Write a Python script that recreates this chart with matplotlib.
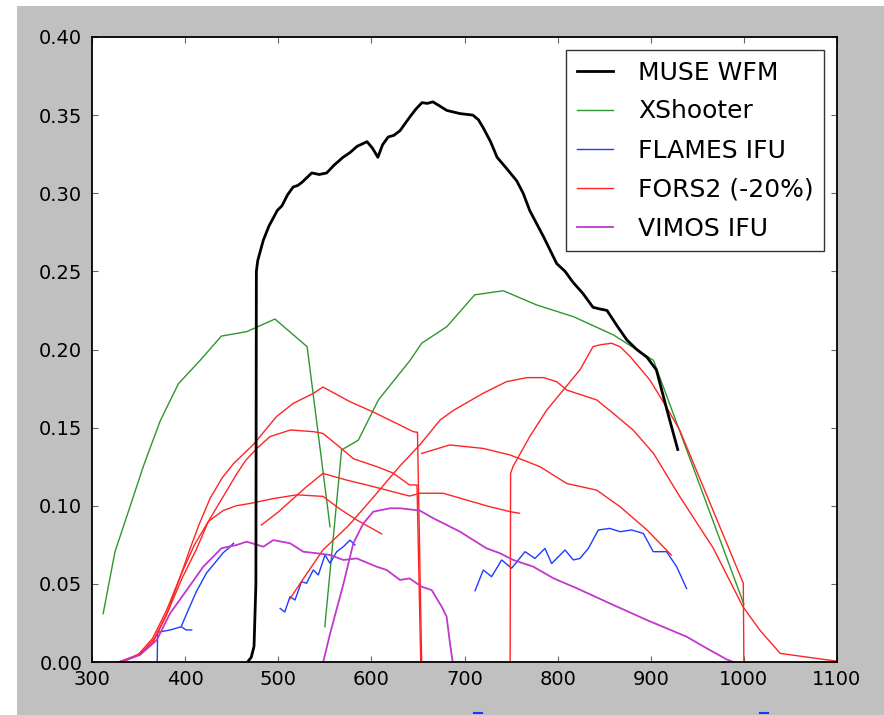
import matplotlib
matplotlib.use("Agg")
import matplotlib.pyplot as plt
from matplotlib.patches import Rectangle
from matplotlib.lines import Line2D

# ---------------- data ----------------
muse_x = [467, 471, 474, 476, 476.5, 478, 484, 490, 499, 504, 510, 516, 521, 525.5, 536,
          544, 552, 560, 569.5, 577, 584.6, 595.3, 601, 607, 612, 618, 624, 630.7, 641.5,
          648, 654.4, 660, 666, 673, 681, 688, 695, 702, 709, 715, 720, 728, 735, 745,
          756, 763, 770, 785, 799, 808, 816.5, 827, 838, 845, 853, 864, 874.5, 885, 896,
          906, 918, 929]
muse_y = [0.0, 0.003, 0.01, 0.05, 0.25, 0.257, 0.270, 0.279, 0.289, 0.292, 0.299, 0.304,
          0.305, 0.307, 0.313, 0.312, 0.313, 0.318, 0.323, 0.326, 0.330, 0.333, 0.329,
          0.323, 0.331, 0.336, 0.337, 0.340, 0.349, 0.354, 0.358, 0.3575, 0.3585, 0.356,
          0.353, 0.352, 0.351, 0.3505, 0.350, 0.347, 0.342, 0.333, 0.323, 0.316, 0.308,
          0.300, 0.289, 0.272, 0.255, 0.250, 0.243, 0.236, 0.227, 0.226, 0.225, 0.215,
          0.206, 0.200, 0.195, 0.187, 0.160, 0.136]

xsh_uvb_x = [312, 324.7, 340.8, 355, 373, 392.7, 416, 439, 466, 496.5, 531, 555.6]
xsh_uvb_y = [0.031, 0.0706, 0.0994, 0.125, 0.154, 0.178, 0.193, 0.2086, 0.2114, 0.2195,
             0.2018, 0.0866]
xsh_vis_x = [550, 568, 586, 607.5, 620, 641.5, 654, 681, 711, 741.7, 777.5, 817, 860,
             903, 1000]
xsh_vis_y = [0.0226, 0.1357, 0.142, 0.1677, 0.177, 0.193, 0.204, 0.2146, 0.235, 0.2376,
             0.2285, 0.221, 0.2093, 0.193, 0.037]

fl1_x = [370, 370.5, 384, 396, 401, 407]
fl1_y = [0.0, 0.019, 0.0205, 0.0226, 0.0205, 0.0205]
fl2_x = [396, 401, 412, 423, 430, 441, 447, 452]
fl2_y = [0.023, 0.030, 0.045, 0.057, 0.062, 0.070, 0.073, 0.076]
fl3_x = [502, 507, 512.6, 518, 525, 530.4, 537.6, 543, 550.2, 555.6, 562.8, 569.9, 577,
         582.4]
fl3_y = [0.0343, 0.032, 0.0418, 0.0397, 0.0514, 0.0504, 0.0589, 0.0557, 0.0685, 0.0632,
         0.0706, 0.0738, 0.078, 0.0749]
fl4_x = [711.3, 720.2, 729.1, 739.9, 750.6, 765, 775.7, 786.4, 793.6, 808, 816.8, 824,
         833, 843.7, 856, 867, 879.5, 892, 902.7, 917, 927.8, 938.5]
fl4_y = [0.0456, 0.0589, 0.0546, 0.0653, 0.060, 0.0706, 0.0663, 0.0727, 0.063, 0.0717,
         0.0653, 0.0663, 0.0727, 0.0845, 0.0855, 0.0834, 0.0845, 0.0823, 0.0706, 0.0706,
         0.061, 0.047]

fA_x = [330, 350, 365, 380, 395, 405, 415, 427, 440, 452, 473, 498, 516, 538, 548, 577,
        602, 627, 645, 649.5, 654]
fA_y = [0.0, 0.005, 0.015, 0.033, 0.055, 0.072, 0.088, 0.105, 0.118, 0.127, 0.139, 0.157,
        0.1655, 0.172, 0.176, 0.1666, 0.160, 0.1527, 0.1474, 0.147, 0.0]
fB_x = [333, 352, 367, 382, 397, 412, 425, 440, 455, 465, 477, 491, 513, 538, 548, 563,
        581, 606, 623, 641, 649, 653]
fB_y = [0.0, 0.005, 0.015, 0.033, 0.054, 0.072, 0.090, 0.105, 0.120, 0.129, 0.1367,
        0.1442, 0.1485, 0.1474, 0.1463, 0.139, 0.130, 0.125, 0.121, 0.1133, 0.1133, 0.0]
fC_x = [482, 500, 515, 530, 548, 573, 595, 623, 641, 652, 677, 702, 727, 749, 759]
fC_y = [0.0877, 0.096, 0.104, 0.112, 0.1207, 0.1165, 0.1133, 0.109, 0.1062, 0.108, 0.108,
        0.1037, 0.0994, 0.0962, 0.0952]
fD_x = [328, 348, 365, 380, 395, 410, 425, 441, 455, 470, 495, 520, 548, 566, 584, 611]
fD_y = [0.0, 0.004, 0.012, 0.030, 0.055, 0.075, 0.090, 0.097, 0.100, 0.1015, 0.1046,
        0.107, 0.106, 0.098, 0.091, 0.082]
fE_x = [512, 530, 548, 575, 600, 630, 652, 674, 688, 720, 745, 767, 785, 799, 810, 842,
        860, 881, 903, 931, 967, 999, 1017, 1039, 1100]
fE_y = [0.040, 0.056, 0.0717, 0.087, 0.104, 0.125, 0.139, 0.155, 0.161, 0.172, 0.1794,
        0.182, 0.182, 0.1794, 0.174, 0.1677, 0.159, 0.1485, 0.1335, 0.106, 0.073, 0.0354,
        0.0205, 0.0055, 0.0005]
fF_x = [654, 684, 720, 749, 781, 810, 842, 867, 896, 922]
fF_y = [0.1335, 0.1389, 0.1367, 0.1325, 0.125, 0.1142, 0.110, 0.0994, 0.0845, 0.0685]
fG_x = [749, 749.5, 752, 770, 788, 806, 824, 838, 845.5, 858, 867, 878, 899, 917, 931,
        999.4, 1000]
fG_y = [0.0, 0.1207, 0.125, 0.1442, 0.161, 0.174, 0.187, 0.2018, 0.203, 0.204, 0.2018,
        0.1954, 0.1805, 0.163, 0.1485, 0.0504, 0.0]

vi1_x = [330, 351.5, 369.5, 383.7, 401.7, 419.5, 439, 455.4, 466, 484, 494.7, 512.6,
         526.9, 541.3, 555.6, 569.9, 584.2, 605.6, 616.4, 630.7, 641, 654, 664.8, 675.5,
         680.8, 684.4, 687.3]
vi1_y = [0.0, 0.0045, 0.014, 0.031, 0.046, 0.061, 0.0728, 0.0749, 0.077, 0.0738, 0.078,
         0.076, 0.0706, 0.0696, 0.0685, 0.0653, 0.0663, 0.061, 0.0589, 0.0525, 0.0535,
         0.0482, 0.046, 0.0354, 0.029, 0.012, 0.0]
vi2_x = [548.3, 555.6, 570, 580.6, 591.3, 602, 620, 630.7, 652, 666.5, 680.9, 695.2,
         709.5, 723.8, 738.1, 752.4, 773.9, 795.4, 820.5, 859.8, 895.6, 938.5, 960,
         981.4, 988.6]
vi2_y = [0.0, 0.018, 0.050, 0.076, 0.0886, 0.0962, 0.0984, 0.0984, 0.0969, 0.092, 0.0877,
         0.0834, 0.078, 0.0727, 0.0696, 0.0653, 0.061, 0.0536, 0.0472, 0.0365, 0.0269,
         0.0162, 0.0088, 0.0017, 0.0]

x_ticks = [300, 400, 500, 600, 700, 800, 900, 1000, 1100]
y_ticks = [0.00, 0.05, 0.10, 0.15, 0.20, 0.25, 0.30, 0.35, 0.40]

# ---------------- figure ----------------
W, H = 884, 715
fig = plt.figure(figsize=(W / 100, H / 100), dpi=100, facecolor='white')
fig.patches.append(Rectangle((17 / W, 0), 1 - 17 / W, (H - 6) / H,
                             transform=fig.transFigure, facecolor='#c0c0c0',
                             edgecolor='none', zorder=-10))
ax = fig.add_axes([92 / W, (H - 662) / H, 745 / W, 625 / H])
ax.set_facecolor('white')

c_green = '#2f962f'
c_blue = '#1f3cff'
c_red = '#ff2424'
c_mag = '#c038cc'
thin = 1.0

ax.plot(muse_x, muse_y, color='black', lw=2.0, label='MUSE WFM', zorder=5)
ax.plot(xsh_uvb_x, xsh_uvb_y, color=c_green, lw=thin, label='XShooter')
ax.plot(xsh_vis_x, xsh_vis_y, color=c_green, lw=thin)
ax.plot(fl1_x, fl1_y, color=c_blue, lw=thin, label='FLAMES IFU')
for xs, ys in [(fl2_x, fl2_y), (fl3_x, fl3_y), (fl4_x, fl4_y)]:
    ax.plot(xs, ys, color=c_blue, lw=thin)
ax.plot(fA_x, fA_y, color=c_red, lw=thin, label='FORS2 (-20%)')
for xs, ys in [(fB_x, fB_y), (fC_x, fC_y), (fD_x, fD_y), (fE_x, fE_y), (fF_x, fF_y),
               (fG_x, fG_y)]:
    ax.plot(xs, ys, color=c_red, lw=thin)
ax.plot(vi1_x, vi1_y, color=c_mag, lw=1.3, label='VIMOS IFU')
ax.plot(vi2_x, vi2_y, color=c_mag, lw=1.3)

ax.set_xlim(300, 1100)
ax.set_ylim(0, 0.40)
ax.set_xticks(x_ticks)
ax.set_yticks(y_ticks)
ax.set_yticklabels(['%.2f' % v for v in y_ticks])
ax.tick_params(direction='in', length=4, width=0.8, color='#666666', top=True,
               right=True, labelsize=14, pad=7)
ax.tick_params(axis='x', pad=6)
for s in ax.spines.values():
    s.set_linewidth(1.3)
    s.set_color('black')

leg = ax.legend(loc='upper right', fontsize=18, frameon=True, fancybox=False,
                edgecolor='black', borderaxespad=0.52, borderpad=0.42,
                labelspacing=0.6, handlelength=1.45, handletextpad=1.0)
leg.get_frame().set_linewidth(1.0)

# small blue marks at the bottom edge
for x0 in (474, 760):
    fig.add_artist(Line2D([x0 / W, (x0 + 8) / W], [2 / H, 2 / H],
                          transform=fig.transFigure, color='#2233ff', lw=1.5))

fig.savefig('out.png', dpi=100, facecolor=fig.get_facecolor())
